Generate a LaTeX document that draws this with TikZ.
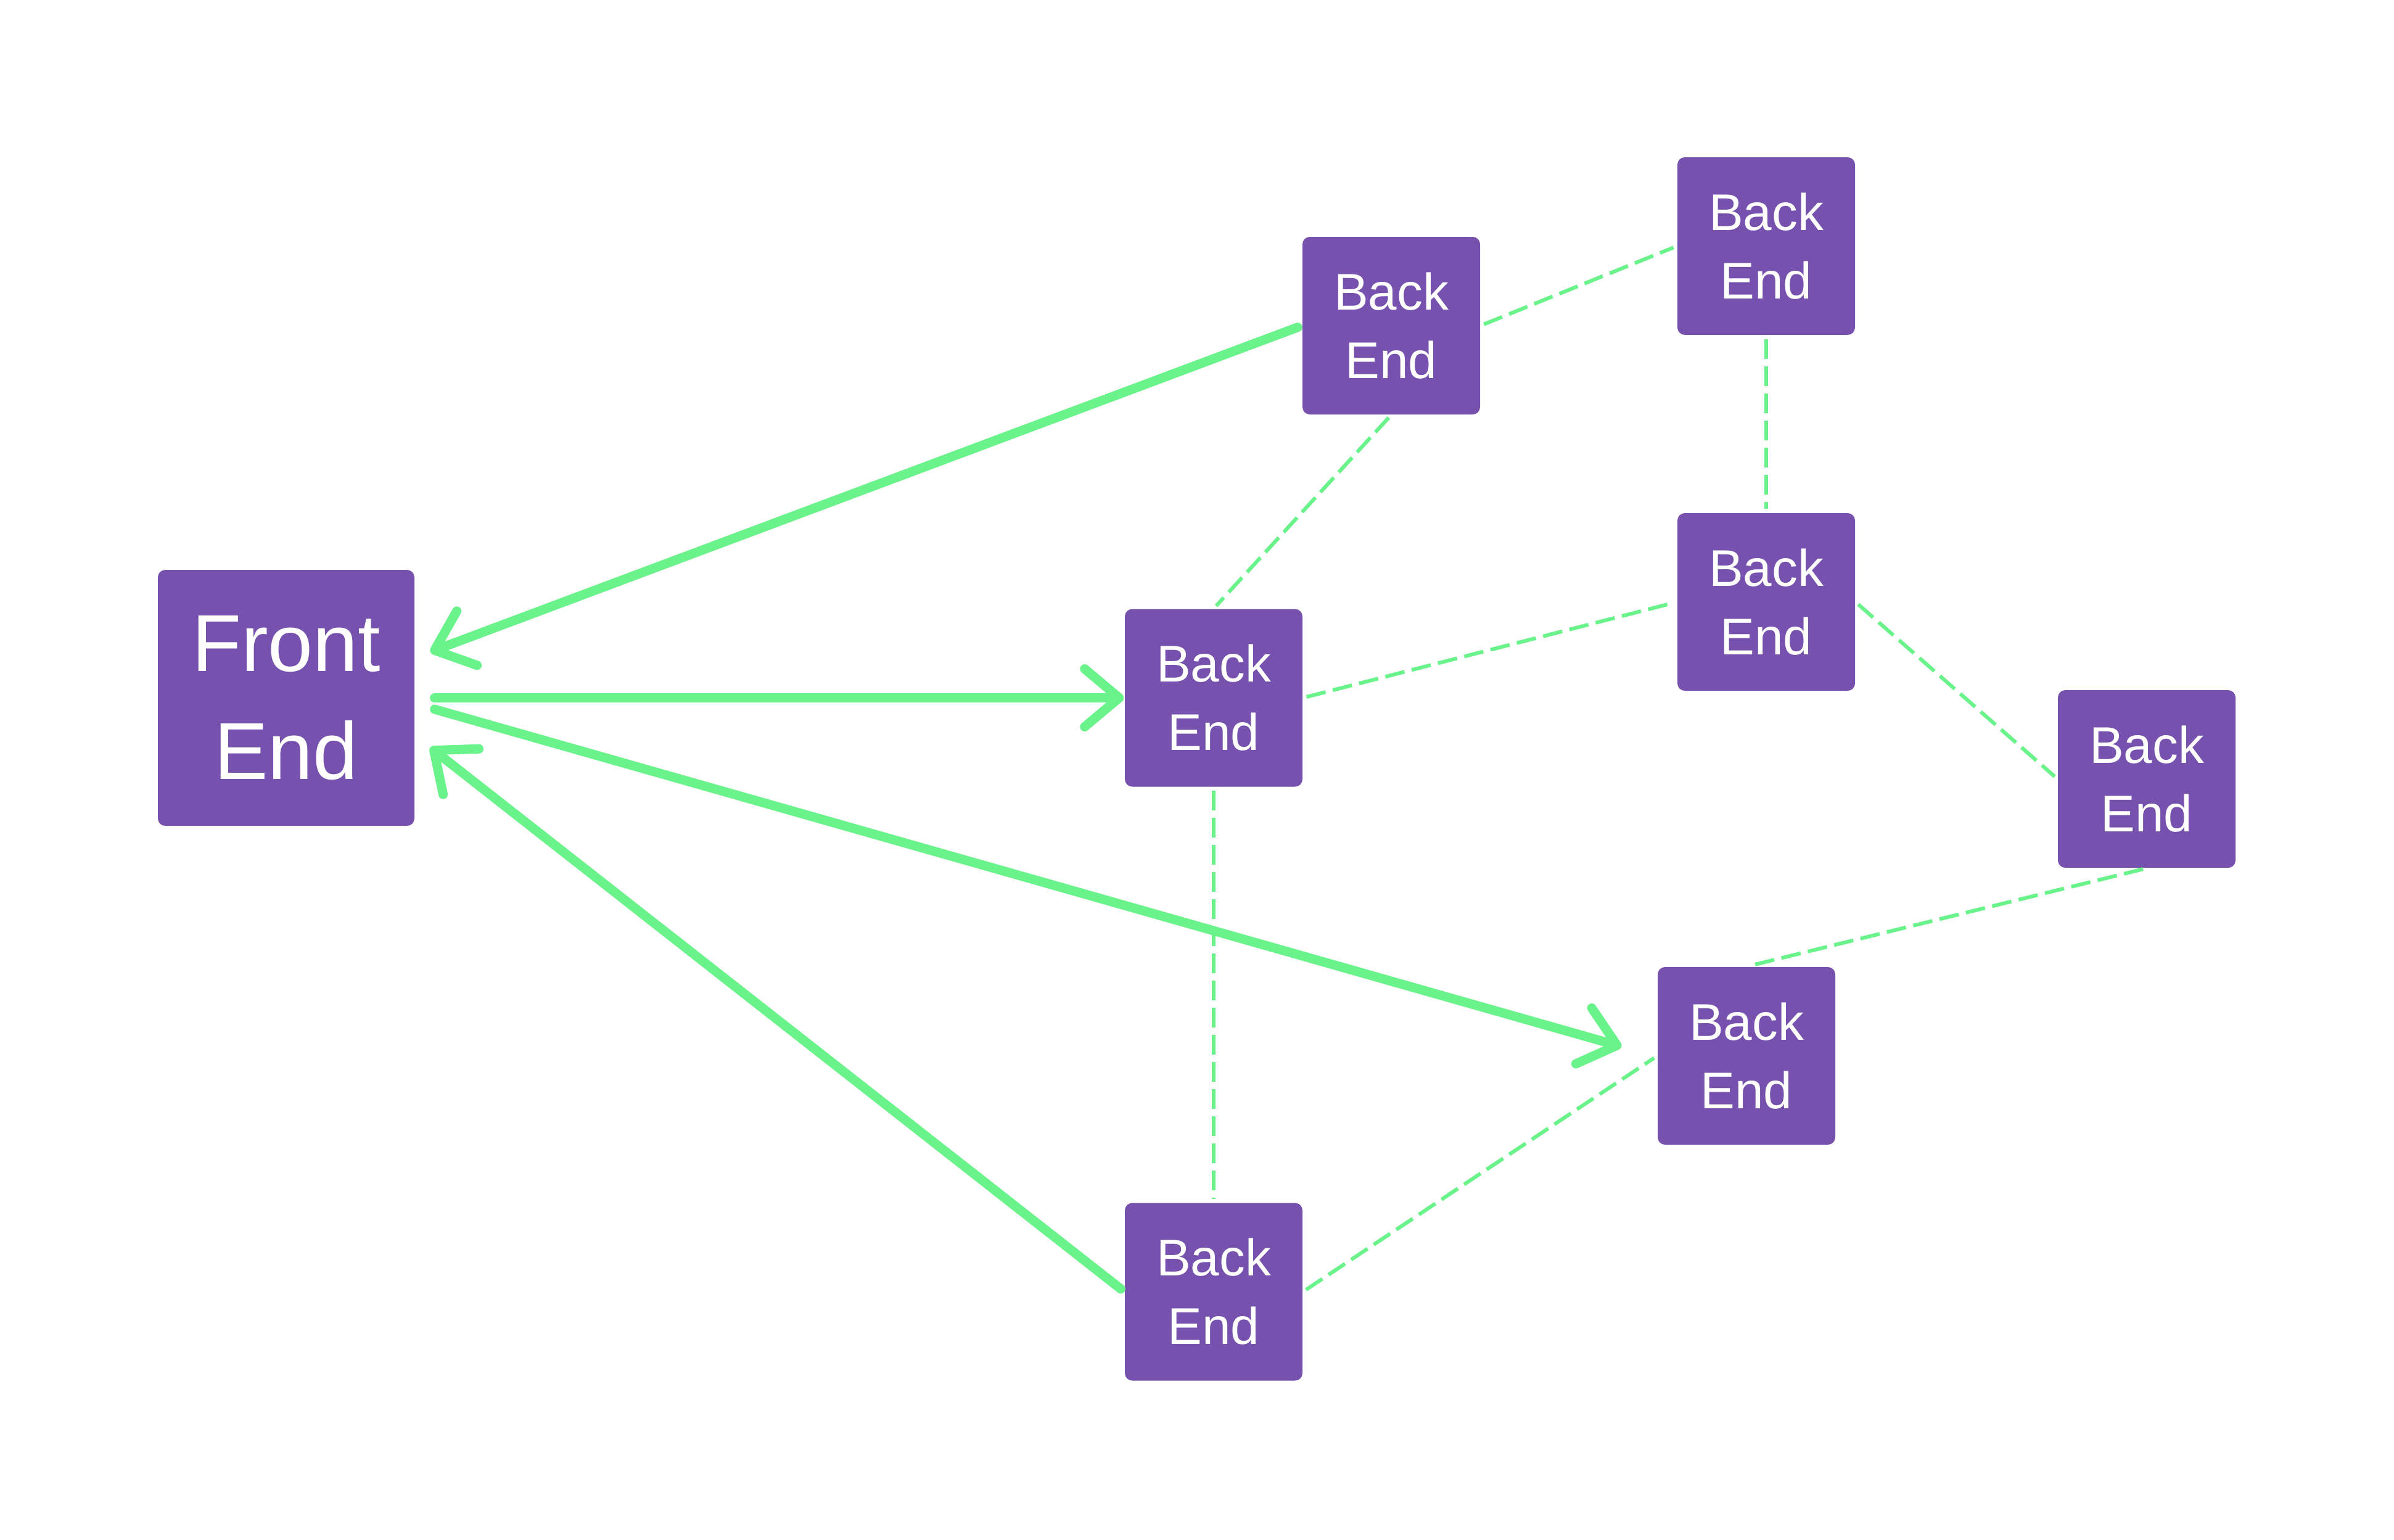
\documentclass[tikz,border=0pt]{standalone}
\usepackage{fontspec}
\setmainfont{Liberation Sans}
\usetikzlibrary{arrows.meta,calc}
\definecolor{boxpurple}{RGB}{118,82,174}
\definecolor{linegreen}{RGB}{106,243,138}
\begin{document}
\begin{tikzpicture}[x=1cm,y=1cm,
  bebox/.style={fill=boxpurple,rounded corners=1.2mm,minimum width=2.88cm,minimum height=2.88cm,
    inner sep=0pt,align=center,text=white,font=\fontsize{23.8}{31.6}\selectfont},
  febox/.style={fill=boxpurple,rounded corners=1.2mm,minimum width=4.16cm,minimum height=4.15cm,
    inner sep=0pt,align=center,text=white,font=\fontsize{37.3}{49.8}\selectfont},
  arrowline/.style={draw=linegreen,line width=1.5mm,line cap=round,
    -{Straight Barb[length=5.6mm,width=9.4mm,round]}},
  dashline/.style={draw=linegreen,line width=0.6mm,dash pattern=on 3.2mm off 1.2mm,
    shorten <=0.6mm,shorten >=0.6mm}]
\useasboundingbox[fill=white] (0,0) rectangle (38.82,-24.96);
\node[febox] (fe) at (4.64,-11.315) {Front\\End};
\node[bebox] (be1) at (22.56,-5.28) {Back\\End};
\node[bebox] (be2) at (28.64,-3.99) {Back\\End};
\node[bebox] (be3) at (28.64,-9.76) {Back\\End};
\node[bebox] (be4) at (19.68,-11.315) {Back\\End};
\node[bebox] (be5) at (34.81,-12.63) {Back\\End};
\node[bebox] (be6) at (28.32,-17.12) {Back\\End};
\node[bebox] (be7) at (19.68,-20.945) {Back\\End};
% dashed links
\draw[dashline] (be1.east) -- (be2.west);
\draw[dashline] (be1.south) -- (be4.north);
\draw[dashline] (be2.south) -- (be3.north);
\draw[dashline] (be4.east) -- (be3.west);
\draw[dashline] (be3.east) -- (be5.west);
\draw[dashline] (be5.south) -- (be6.north);
\draw[dashline] (be4.south) -- (be7.north);
\draw[dashline] (be7.east) -- (be6.west);
% arrows
\draw[arrowline,shorten <=0.75mm] (be1.west) -- ($(fe.east)+(0.25,0.745)$);
\draw[arrowline] ($(fe.east)+(0.32,0)$) -- ($(be4.west)+(-0.01,0)$);
\draw[arrowline] ($(fe.east)+(0.32,-0.185)$) -- ($(be6.west)+(-0.58,0.15)$);
\draw[arrowline,shorten <=0.75mm] (be7.west) -- ($(fe.east)+(0.25,-0.805)$);
\end{tikzpicture}
\end{document}
